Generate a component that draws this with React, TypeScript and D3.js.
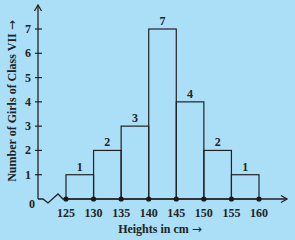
import React, { useEffect, useRef } from 'react';
import * as d3 from 'd3';

const binEdges = [125, 130, 135, 140, 145, 150, 155, 160];
const counts = [1, 2, 3, 7, 4, 2, 1];
const yTicks = [1, 2, 3, 4, 5, 6, 7];

const W = 295;
const H = 240;
const ink = '#222';
const font = '"Liberation Serif", "Times New Roman", serif';
const arrowFont = '"DejaVu Sans", sans-serif';

const App = () => {
  const ref = useRef<SVGSVGElement>(null);

  useEffect(() => {
    const svg = d3.select(ref.current);
    svg.selectAll('*').remove();

    svg.append('rect').attr('width', W).attr('height', H).attr('fill', '#abdff8');

    const x = d3.scaleLinear().domain([125, 160]).range([66, 259]);
    const y = d3.scaleLinear().domain([0, 7]).range([199, 29]);
    const x0 = 38;
    const y0 = y(0);

    const label = (sel: any, size = 12) =>
      sel
        .attr('font-family', font)
        .attr('font-weight', 'bold')
        .attr('font-size', size)
        .attr('fill', ink);

    // bars
    const bars = counts.map((c, i) => ({ a: binEdges[i], b: binEdges[i + 1], c }));
    svg
      .selectAll('.bar')
      .data(bars)
      .enter()
      .append('rect')
      .attr('x', (d) => x(d.a))
      .attr('y', (d) => y(d.c))
      .attr('width', (d) => x(d.b) - x(d.a))
      .attr('height', (d) => y0 - y(d.c))
      .attr('fill', 'none')
      .attr('stroke', ink)
      .attr('stroke-width', 1.2);

    label(
      svg
        .selectAll('.val')
        .data(bars)
        .enter()
        .append('text')
        .attr('x', (d) => (x(d.a) + x(d.b)) / 2)
        .attr('y', (d) => y(d.c) - 4)
        .attr('text-anchor', 'middle')
    ).text((d) => d.c);

    // y axis
    svg
      .append('line')
      .attr('x1', x0)
      .attr('x2', x0)
      .attr('y1', y0)
      .attr('y2', 5)
      .attr('stroke', ink)
      .attr('stroke-width', 1.3);
    svg
      .append('path')
      .attr('d', `M${x0 - 3.5},${11} L${x0},${5} L${x0 + 3.5},${11}`)
      .attr('fill', 'none')
      .attr('stroke', ink)
      .attr('stroke-width', 1.3);

    svg
      .selectAll('.ytick')
      .data(yTicks)
      .enter()
      .append('line')
      .attr('x1', x0 - 3)
      .attr('x2', x0 + 4)
      .attr('y1', (d) => y(d))
      .attr('y2', (d) => y(d))
      .attr('stroke', ink)
      .attr('stroke-width', 1.2);

    label(
      svg
        .selectAll('.ylab')
        .data(yTicks)
        .enter()
        .append('text')
        .attr('x', 28)
        .attr('y', (d) => y(d) + 4)
        .attr('text-anchor', 'middle')
    ).text((d) => d);

    label(svg.append('text').attr('x', 32).attr('y', y0 + 9).attr('text-anchor', 'middle')).text('0');

    // x axis with kink
    const xEnd = 287;
    svg
      .append('path')
      .attr(
        'd',
        `M${x0},${y0} L${x0 + 5},${y0} L${x0 + 10},${y0 + 4} L${x0 + 20},${y0 - 5} L${x0 + 25},${y0} L${xEnd},${y0}`
      )
      .attr('fill', 'none')
      .attr('stroke', ink)
      .attr('stroke-width', 1.3);
    svg
      .append('path')
      .attr('d', `M${xEnd - 6},${y0 - 3.5} L${xEnd},${y0} L${xEnd - 6},${y0 + 3.5}`)
      .attr('fill', 'none')
      .attr('stroke', ink)
      .attr('stroke-width', 1.3);

    svg
      .selectAll('.dot')
      .data(binEdges)
      .enter()
      .append('circle')
      .attr('cx', (d) => x(d))
      .attr('cy', y0)
      .attr('r', 2.6)
      .attr('fill', '#1a1a1a');

    label(
      svg
        .selectAll('.xlab')
        .data(binEdges)
        .enter()
        .append('text')
        .attr('x', (d) => x(d))
        .attr('y', y0 + 18)
        .attr('text-anchor', 'middle')
    ).text((d) => d);

    const xt = label(svg.append('text').attr('x', 160).attr('y', 233).attr('text-anchor', 'middle'));
    xt.append('tspan').text('Heights in cm  ');
    xt.append('tspan').attr('font-family', arrowFont).attr('font-weight', 'normal').text('→');

    const yt = label(
      svg.append('text').attr('transform', 'translate(16,101) rotate(-90)').attr('text-anchor', 'middle')
    );
    yt.append('tspan').text('Number of Girls of Class VII ');
    yt.append('tspan').attr('font-family', arrowFont).attr('font-weight', 'normal').text('→');
  }, []);

  return (
    <svg
      ref={ref}
      width={W}
      height={H}
      style={{ position: 'absolute', left: 0, top: 0, display: 'block' }}
    />
  );
};

export default App;
